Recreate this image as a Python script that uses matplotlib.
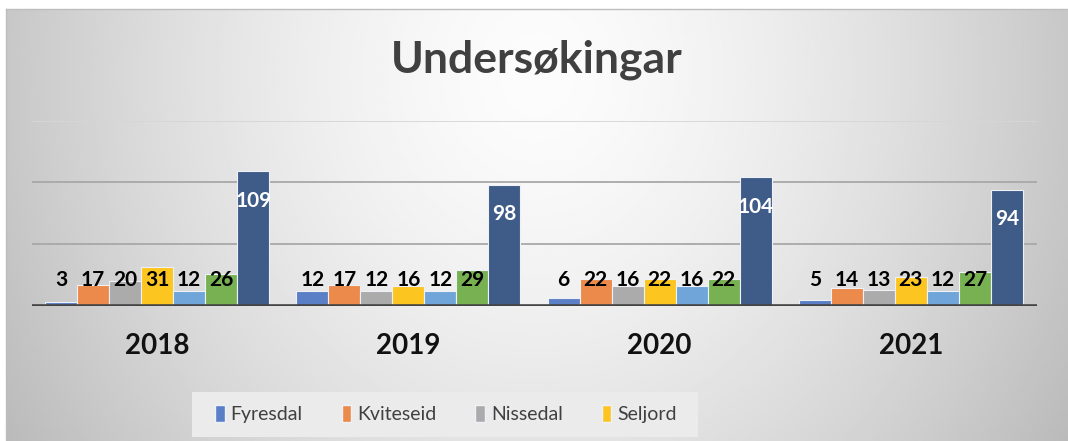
import matplotlib.pyplot as plt
from matplotlib.patches import Rectangle, Patch
import numpy as np

plt.rcParams['font.family'] = ['Lato', 'DejaVu Sans']

years = ['2018', '2019', '2020', '2021']
series = ['Fyresdal', 'Kviteseid', 'Nissedal', 'Seljord', 'Tokke', 'Vinje', 'Totalt']
fyresdal = [3, 12, 6, 5]
kviteseid = [17, 17, 22, 14]
nissedal = [20, 12, 16, 13]
seljord = [31, 16, 22, 23]
tokke = [12, 12, 16, 12]
vinje = [26, 29, 22, 27]
totalt = [109, 98, 104, 94]
values = [fyresdal, kviteseid, nissedal, seljord, tokke, vinje, totalt]
colors = ['#5a7fc7', '#eb8a4b', '#ababab', '#fdc520', '#6fa5d8', '#78b152', '#3f5b88']

W, H = 1068, 441
fig = plt.figure(figsize=(W / 100, H / 100), dpi=100)
fig.patch.set_facecolor('white')

# grey radial background of the chart area
bx0, by1 = 6, 9
bg = fig.add_axes([bx0 / W, 0, 1 - bx0 / W, (H - by1) / H], zorder=0)
xx, yy = np.meshgrid(np.linspace(0, 1, 400), np.linspace(0, 1, 200))
r = np.sqrt(((xx - 0.5) / 0.5) ** 2 + ((yy - 0.15) / 1.4) ** 2)
v = np.clip(252 - 52 * r ** 1.5, 185, 252) / 255
bg.imshow(v, cmap='gray', vmin=0, vmax=1, aspect='auto', extent=[0, 1, 1, 0])
bg.set_xlim(0, 1)
bg.set_ylim(1, 0)
bg.axis('off')
fig.add_artist(plt.Line2D([bx0 / W, 1], [1 - by1 / H] * 2, color='#bdbdbd', lw=1))
fig.add_artist(plt.Line2D([bx0 / W] * 2, [0, 1 - by1 / H], color='#bdbdbd', lw=1))

ax = fig.add_axes([31.5 / W, (H - 305.7) / H, 1005 / W, 185 / H], zorder=2)
ax.set_facecolor('none')
ax.set_xlim(-0.5, 3.5)
ax.set_ylim(0, 150)

for g in [50, 100]:
    ax.axhline(g, color='#a8a8a8', lw=1.3, zorder=1)
ax.axhline(150, color='#d6d6d6', lw=1.3, zorder=1)

x = np.arange(len(years))
bw = 0.1275
for j, (name, vals, col) in enumerate(zip(series, values, colors)):
    pos = x + (j - 3) * bw
    ax.bar(pos, vals, width=bw, color=col, edgecolor='#eef2f8', linewidth=0.8,
           label=name, zorder=2)
    tc = 'white' if j == 6 else 'black'
    for px, val in zip(pos, vals):
        ax.text(px, max(val - 24, 20.5), str(val), ha='center', va='center',
                fontsize=15, fontweight='bold', color=tc, zorder=4, clip_on=False)

ax.axhline(0, color='#444444', lw=2.6, zorder=3)

ax.set_xticks(x)
ax.set_xticklabels(years, fontsize=20, fontweight='bold', color='#111111')
ax.tick_params(axis='x', length=0, pad=20)
ax.set_yticks([])
for s in ax.spines.values():
    s.set_visible(False)

fig.text(537 / W, 1 - 60 / H, 'Undersøkingar', ha='center', va='center',
         fontsize=32, fontweight='bold', color='#404040', zorder=3)

# legend box (only the first four entries are visible in the original)
fig.add_artist(Rectangle((192 / W, 1 - 437 / H), (698 - 192) / W, 45 / H,
                         transform=fig.transFigure, facecolor='#ebebeb',
                         edgecolor='none', zorder=2))
handles = [Patch(facecolor=colors[i], edgecolor='#eef2f8', label=series[i]) for i in range(4)]
fig.legend(handles=handles, loc='center', bbox_to_anchor=(446 / W, 1 - 414 / H),
           ncol=4, frameon=False, fontsize=14, handlelength=0.5, handleheight=1.0,
           handletextpad=0.3, columnspacing=2.0, labelcolor='#404040')

plt.savefig('out.png', dpi=100)
